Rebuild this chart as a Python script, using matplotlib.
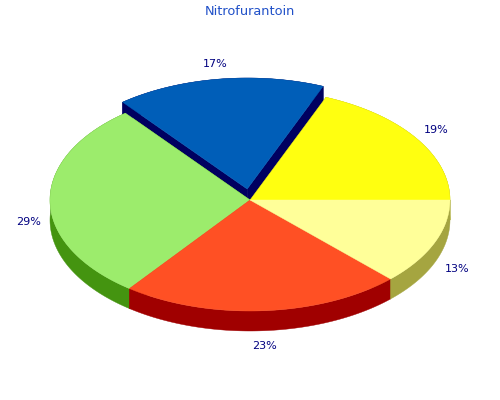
import numpy as np
import matplotlib
matplotlib.use("Agg")
import matplotlib.pyplot as plt
from matplotlib.patches import Polygon

title = "Nitrofurantoin"
# Shares in percent, anticlockwise from the right-hand edge of the pie
values = [18.8, 16.9, 29.0, 22.7, 12.6]
labels = ["19%", "17%", "29%", "23%", "13%"]
top_colors = ["#FFFF10", "#005EB8", "#9CEC6C", "#FF5024", "#FFFF99"]
side_colors = ["#A5A50A", "#000060", "#449410", "#A00000", "#A5A540"]
explode = [0, 0.1, 0, 0, 0]

CX, CY, RX, RY, DEPTH = 250, 200, 200, 111, 20
LABEL_RX, LABEL_RY = 224, 126

fig = plt.figure(figsize=(5, 4), dpi=100)
ax = fig.add_axes([0, 0, 1, 1])
ax.set_xlim(0, 500)
ax.set_ylim(400, 0)
ax.axis("off")

start = 0.0
for v, lab, tc, sc, ex in zip(values, labels, top_colors, side_colors, explode):
    sweep = v / sum(values) * 360
    t = np.radians(np.linspace(start, start + sweep, 120))
    mid = np.radians(start + sweep / 2)
    ox = CX + ex * RX * np.cos(mid)
    oy = CY - ex * RY * np.sin(mid)
    arc_x = ox + RX * np.cos(t)
    arc_y = oy - RY * np.sin(t)
    # radial walls lowest, then outer walls, then top faces
    for i in (0, -1):
        radial = [(ox, oy), (arc_x[i], arc_y[i]), (arc_x[i], arc_y[i] + DEPTH), (ox, oy + DEPTH)]
        ax.add_patch(Polygon(radial, closed=True, fc=sc, ec=sc, lw=0.3, zorder=1))
    wall = np.r_[np.c_[arc_x, arc_y], np.c_[arc_x[::-1], arc_y[::-1] + DEPTH]]
    ax.add_patch(Polygon(wall, closed=True, fc=sc, ec=sc, lw=0.3, zorder=2))
    ax.add_patch(Polygon(np.r_[[[ox, oy]], np.c_[arc_x, arc_y]], closed=True,
                         fc=tc, ec=tc, lw=0.3, zorder=3))
    lx = ox + LABEL_RX * np.cos(mid)
    ly = oy - LABEL_RY * np.sin(mid)
    if np.sin(mid) < 0:
        ly += DEPTH
    if np.cos(mid) < -0.9:
        lx += 3
    ax.text(lx, ly, lab, color="#000080", fontsize=8, ha="center", va="center", zorder=4)
    start += sweep

ax.text(250, 11.5, title, color="#2050C8", fontsize=9.3, ha="center", va="center")
fig.savefig("out.png", dpi=100)
